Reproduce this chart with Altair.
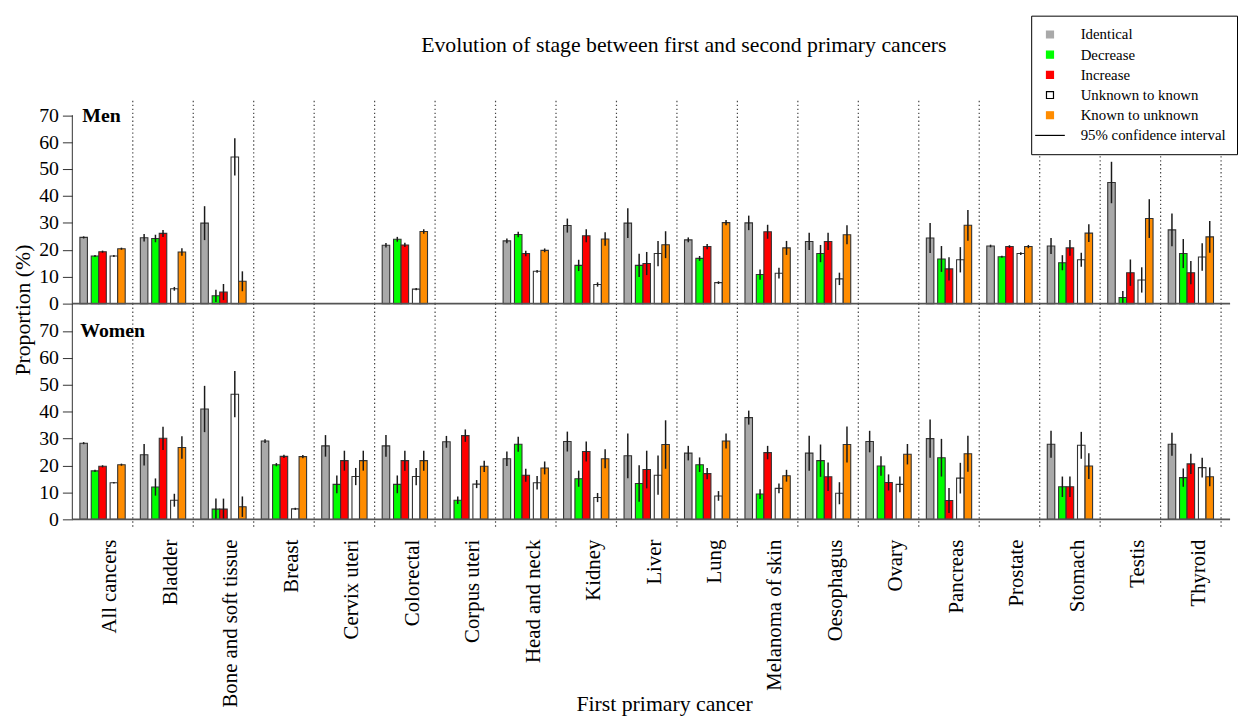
import altair as alt
import pandas as pd

FONT = "Liberation Serif"

cancers = ["All cancers", "Bladder", "Bone and soft tissue", "Breast", "Cervix uteri",
           "Colorectal", "Corpus uteri", "Head and neck", "Kidney", "Liver", "Lung",
           "Melanoma of skin", "Oesophagus", "Ovary", "Pancreas", "Prostate", "Stomach",
           "Testis", "Thyroid"]
series = ["Identical", "Decrease", "Increase", "Unknown to known", "Known to unknown"]
fill_colors = ["#a9a9a9", "#00ff00", "#ff0000", "#ffffff", "#ff8c00"]
ci_label = "95% confidence interval"
title_text = "Evolution of stage between first and second primary cancers"
y_ticks = [0, 10, 20, 30, 40, 50, 60, 70]

# ---- Men: proportions (%) and 95% CI half-widths ----
men_identical = [24.6, 24.5, 29.9, None, None, 21.7, None, 23.3, 29.0, 29.9, 23.7, 30.0, 23.1, None, 24.4, 21.4, 21.4, 45.0, 27.4]
men_identical_ci = [0.4, 1.4, 6.3, None, None, 0.8, None, 0.9, 2.6, 5.5, 0.9, 2.7, 3.2, None, 5.6, 0.5, 3.0, 7.7, 6.1]
men_decrease = [17.7, 24.2, 2.9, None, None, 23.9, None, 25.7, 14.2, 14.2, 16.8, 10.8, 18.6, None, 16.6, 17.4, 15.2, 2.3, 18.6]
men_decrease_ci = [0.4, 1.4, 2.3, None, None, 0.9, None, 1.0, 2.1, 4.3, 0.9, 1.9, 3.2, None, 4.8, 0.4, 2.8, 2.4, 5.4]
men_increase = [19.3, 26.1, 4.3, None, None, 21.8, None, 18.6, 25.2, 14.9, 21.2, 26.7, 23.1, None, 12.9, 21.2, 20.7, 11.5, 11.5]
men_increase_ci = [0.4, 1.3, 3.0, None, None, 0.8, None, 1.0, 2.4, 4.3, 1.0, 2.6, 3.2, None, 4.3, 0.5, 2.9, 4.9, 4.3]
men_unknown = [17.7, 5.5, 54.5, None, None, 5.4, None, 12.0, 7.1, 18.6, 7.8, 11.3, 9.2, None, 16.3, 18.6, 16.3, 8.8, 17.3]
men_unknown_ci = [0.4, 0.7, 6.9, None, None, 0.4, None, 0.5, 0.8, 4.7, 0.5, 2.0, 2.3, None, 4.7, 0.5, 2.6, 4.7, 5.1]
men_known = [20.4, 19.2, 8.3, None, None, 26.8, None, 19.8, 24.0, 21.9, 30.1, 20.7, 25.6, None, 29.1, 21.2, 26.2, 31.6, 24.8]
men_known_ci = [0.4, 1.4, 3.7, None, None, 0.8, None, 0.7, 2.5, 5.0, 1.0, 2.6, 3.5, None, 5.7, 0.6, 3.3, 7.2, 5.9]

# ---- Women ----
women_identical = [28.3, 24.0, 41.0, 29.1, 27.3, 27.3, 28.8, 22.5, 28.9, 23.6, 24.6, 37.8, 24.6, 28.9, 30.0, None, 27.9, None, 27.9]
women_identical_ci = [0.4, 4.0, 8.6, 0.7, 4.0, 4.0, 2.2, 2.7, 3.7, 8.3, 2.7, 2.6, 6.5, 4.0, 7.1, None, 5.0, None, 4.3]
women_decrease = [18.0, 12.0, 3.8, 20.3, 13.0, 13.0, 7.1, 27.9, 15.1, 13.3, 20.3, 9.4, 21.8, 19.8, 22.9, None, 12.1, None, 15.5]
women_decrease_ci = [0.4, 3.2, 3.9, 0.6, 3.3, 3.3, 1.4, 2.8, 3.0, 6.8, 2.7, 1.8, 6.0, 3.6, 7.0, None, 3.8, None, 3.4]
women_increase = [19.7, 30.1, 3.8, 23.4, 21.8, 21.8, 31.1, 16.4, 25.2, 18.5, 17.0, 24.8, 15.8, 13.7, 7.0, None, 12.1, None, 20.6]
women_increase_ci = [0.4, 4.3, 3.9, 0.6, 3.7, 3.7, 2.3, 2.4, 3.7, 7.0, 2.1, 2.5, 5.3, 3.0, 4.6, None, 3.8, None, 3.8]
women_unknown = [13.6, 7.1, 46.5, 3.9, 15.9, 15.9, 13.1, 13.6, 8.1, 16.4, 8.7, 11.5, 9.7, 13.0, 15.3, None, 27.5, None, 19.2]
women_unknown_ci = [0.3, 2.4, 8.6, 0.4, 3.2, 3.2, 1.5, 2.5, 1.7, 7.3, 1.8, 1.8, 4.1, 2.9, 5.7, None, 5.0, None, 3.7]
women_known = [20.3, 26.7, 4.7, 23.3, 21.8, 21.8, 19.7, 19.1, 22.5, 27.8, 29.1, 16.2, 27.8, 24.2, 24.4, None, 19.8, None, 15.8]
women_known_ci = [0.4, 4.2, 3.8, 0.6, 3.7, 3.7, 2.1, 2.4, 3.5, 9.0, 2.8, 2.2, 6.7, 3.8, 6.7, None, 4.8, None, 3.5]


def long_frame(values, cis):
    rows = []
    for s, vals, errs in zip(series, values, cis):
        for c, v, e in zip(cancers, vals, errs):
            if v is None:
                continue
            rows.append({"cancer": c, "series": s, "value": v, "ci": e})
    return pd.DataFrame(rows)


men_df = long_frame([men_identical, men_decrease, men_increase, men_unknown, men_known],
                    [men_identical_ci, men_decrease_ci, men_increase_ci, men_unknown_ci, men_known_ci])
women_df = long_frame([women_identical, women_decrease, women_increase, women_unknown, women_known],
                      [women_identical_ci, women_decrease_ci, women_increase_ci, women_unknown_ci, women_known_ci])

# legend entries
legend_entries = series + [ci_label]
legend_fill = fill_colors + ["#000000"]
legend_stroke = ["#a9a9a9", "#00ff00", "#ff0000", "#000000", "#ff8c00", "#000000"]
square_path = "M-0.5,-0.5H0.5V0.5H-0.5Z"
line_path = "M-2.12,0H2.12"
legend_shapes = [square_path] * 5 + [line_path]

# layout scales: half-bar slots within each group (a bar covers two slots)
offset_domain = ["s0", "s1", "Identical", "s3", "s4", "Decrease", "s6", "Increase", "s8",
                 "s9", "Unknown to known", "s11", "Known to unknown", "s13", "s14"]
x_scale = alt.Scale(domain=cancers, paddingInner=0, paddingOuter=0.0745, align=0)
xoff_scale = alt.Scale(domain=offset_domain, paddingInner=0, paddingOuter=0.5)
fill_scale = alt.Scale(domain=series, range=fill_colors)

PLOT_W = 1170
BAR_W = 7.6


def panel(df, tag, y_domain, height, bottom):
    y_scale = alt.Scale(domain=y_domain, nice=False, zero=False)
    y_common = dict(values=y_ticks, tickSize=10, tickColor="#333333", labelPadding=4,
                    labelFont=FONT, labelFontSize=20, labelColor="black", domain=False,
                    grid=False, labelOverlap=False, labelFlush=False)
    if bottom:
        x_axis = alt.Axis(labelAngle=270, labelFont=FONT, labelFontSize=21, labelColor="black",
                          labelPadding=10, labelOffset=8, labelLimit=300, domain=False,
                          ticks=False, title="First primary cancer", titleFont=FONT,
                          titleFontSize=22, titleFontWeight="normal", titleColor="black",
                          titleX=598, titleY=183, titleBaseline="alphabetic",
                          titleAlign="center", titleAngle=0)
        y_axis = alt.Axis(title="Proportion (%)", titleFont=FONT, titleFontSize=22,
                          titleFontWeight="normal", titleColor="black", titleAngle=270,
                          titleX=-50, titleY=6, titleAlign="center", titleBaseline="middle",
                          **y_common)
    else:
        x_axis = None
        y_axis = alt.Axis(title=None, **y_common)

    sep = alt.Chart(pd.DataFrame({"cancer": cancers})).mark_rule(
        color="#444444", strokeWidth=1.2, strokeDash=[1.4, 2.6]
    ).encode(x=alt.X("cancer:N", scale=x_scale, sort=cancers, bandPosition=1, axis=x_axis))

    bars = alt.Chart(df).mark_bar(stroke="#333333", strokeWidth=1.1, width=BAR_W).encode(
        x=alt.X("cancer:N", scale=x_scale, sort=cancers, axis=x_axis),
        xOffset=alt.XOffset("series:N", scale=xoff_scale, sort=offset_domain),
        y=alt.Y("value:Q", scale=y_scale, axis=y_axis),
        fill=alt.Fill("series:N", scale=fill_scale, legend=None),
    )

    errs = alt.Chart(df).transform_calculate(
        lo="max(0, datum.value - datum.ci)", hi="datum.value + datum.ci"
    ).mark_rule(color="#1a1a1a", strokeWidth=1.5).encode(
        x=alt.X("cancer:N", scale=x_scale, sort=cancers, axis=x_axis),
        xOffset=alt.XOffset("series:N", scale=xoff_scale, sort=offset_domain),
        y=alt.Y("lo:Q", scale=y_scale, axis=y_axis),
        y2="hi:Q",
    )

    top_val = y_domain[1] if bottom else 70
    one = pd.DataFrame({"tag": [tag], "base": [0], "top": [top_val]})
    zero = alt.Chart(one).mark_rule(color="#555555", strokeWidth=1.8).encode(
        y=alt.Y("base:Q", scale=y_scale, axis=y_axis))
    yline = alt.Chart(one).mark_rule(color="#333333", strokeWidth=1).encode(
        x=alt.value(0), y=alt.Y("base:Q", scale=y_scale, axis=y_axis), y2="top:Q")
    label = alt.Chart(one).mark_text(
        align="left", baseline="middle", font=FONT, fontSize=20, fontWeight="bold", color="black"
    ).encode(x=alt.value(8 if bottom else 10), y=alt.value(28 if bottom else 15), text="tag:N")

    layers = [sep, bars, errs, zero, yline, label]

    if not bottom:
        title = alt.Chart(pd.DataFrame({"t": [title_text]})).mark_text(
            font=FONT, fontSize=22, align="center", baseline="middle", color="black"
        ).encode(x=alt.value(618), y=alt.value(-56), text="t:N")
        leg = alt.Legend(title=None, orient="none", legendX=969, legendY=-86,
                         fillColor="white", strokeColor="black", padding=11,
                         labelFont=FONT, labelFontSize=15, labelColor="black",
                         labelOffset=23, rowPadding=4.4, symbolSize=200, symbolOpacity=1,
                         symbolStrokeWidth=1.2, labelLimit=300)
        legend_layer = alt.Chart(pd.DataFrame({"entry": legend_entries})).transform_filter(
            "false"
        ).mark_point(filled=True, opacity=1).encode(
            color=alt.Color("entry:N", scale=alt.Scale(domain=legend_entries, range=legend_fill),
                            sort=legend_entries, legend=leg),
            shape=alt.Shape("entry:N", scale=alt.Scale(domain=legend_entries, range=legend_shapes),
                            sort=legend_entries, legend=leg),
            stroke=alt.Stroke("entry:N", scale=alt.Scale(domain=legend_entries, range=legend_stroke),
                              sort=legend_entries, legend=leg),
        )
        layers += [title, legend_layer]

    return alt.layer(*layers).properties(width=PLOT_W, height=height)


men = panel(men_df, "Men", [0, 75.37], 205, False)
women = panel(women_df, "Women", [-3.68, 80.15], 228, True)

chart = alt.vconcat(men, women, spacing=0, bounds="flush").properties(
    padding={"left": 3, "top": 3, "right": 0, "bottom": 0}
).configure(font=FONT).configure_view(strokeWidth=0)

chart.save("out.html", embed_options={"renderer": "svg", "actions": False})
